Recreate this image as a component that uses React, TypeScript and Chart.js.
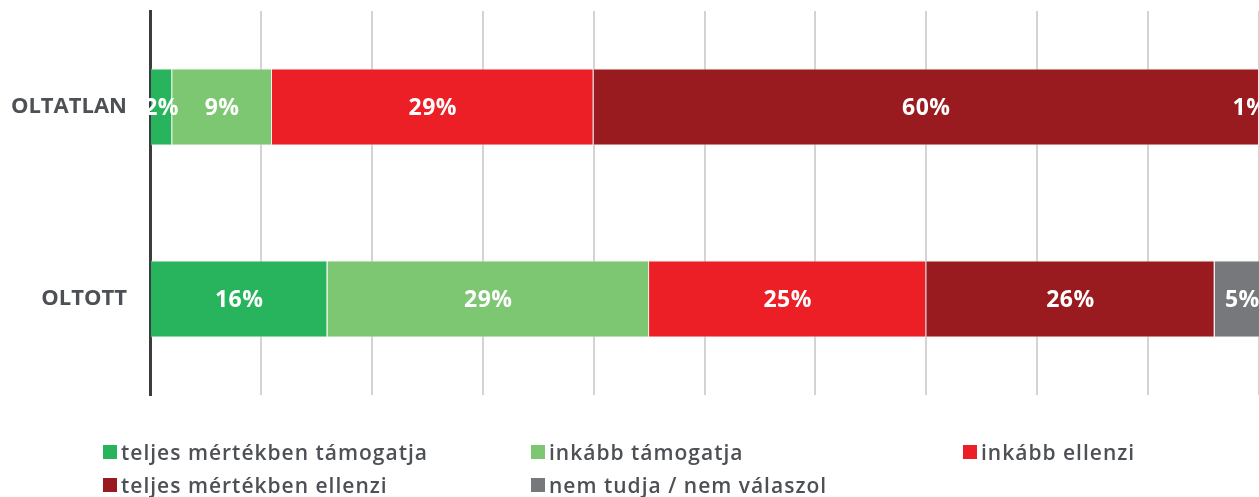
import React, { useEffect, useRef } from "react";
import { Chart, registerables } from "chart.js";

Chart.register(...registerables);

const categories = ["OLTATLAN", "OLTOTT"];
const seriesNames = [
  "teljes mértékben támogatja",
  "inkább támogatja",
  "inkább ellenzi",
  "teljes mértékben ellenzi",
  "nem tudja / nem válaszol",
];
const seriesColors = ["#28b45d", "#7dc672", "#ec1f27", "#991b1f", "#76787b"];
const fullySupports = [2, 16];
const ratherSupports = [9, 29];
const ratherOpposes = [29, 25];
const fullyOpposes = [60, 26];
const dontKnow = [1, 5];
const seriesValues = [fullySupports, ratherSupports, ratherOpposes, fullyOpposes, dontKnow];
const xTicks = [0, 10, 20, 30, 40, 50, 60, 70, 80, 90, 100];

const FONT = "'Open Sans', 'DejaVu Sans', sans-serif";
const TEXT = "#4d5054";

const labelPlugin = {
  id: "segLabels",
  afterDatasetsDraw(chart: any) {
    const ctx = chart.ctx;
    const area = chart.chartArea;
    ctx.save();
    ctx.font = `bold 23px ${FONT}`;
    try {
      (ctx as any).letterSpacing = "0.5px";
    } catch (e) {}
    ctx.fillStyle = "#ffffff";
    ctx.textAlign = "center";
    ctx.textBaseline = "middle";
    chart.data.datasets.forEach((ds: any, di: number) => {
      const meta = chart.getDatasetMeta(di);
      meta.data.forEach((el: any, i: number) => {
        const v = ds.data[i];
        if (!v) return;
        let cx = (el.x + el.base) / 2;
        if (cx > area.right - 9) cx = area.right - 9;
        ctx.fillText(`${v}%`, cx, el.y + 1);
      });
    });
    ctx.restore();
  },
};

export default function App() {
  const ref = useRef<HTMLCanvasElement | null>(null);
  useEffect(() => {
    if (!ref.current) return;
    const chart = new Chart(ref.current, {
      type: "bar",
      data: {
        labels: categories,
        datasets: seriesNames.map((name, i) => ({
          label: name,
          data: seriesValues[i],
          backgroundColor: seriesColors[i],
          borderColor: "rgba(235,235,235,0.8)",
          borderWidth: 1,
          categoryPercentage: 0.4,
          barPercentage: 1,
        })),
      },
      options: {
        indexAxis: "y",
        responsive: false,
        animation: false,
        layout: { padding: { top: 11, bottom: 102, left: 0, right: 0 } },
        plugins: { legend: { display: false }, tooltip: { enabled: false } },
        scales: {
          x: {
            stacked: true,
            min: 0,
            max: 100,
            afterBuildTicks: (scale: any) => {
              scale.ticks = xTicks.map((v) => ({ value: v }));
            },
            ticks: { display: false },
            grid: { color: "#d3d3d3", lineWidth: 2, drawTicks: false },
            border: { display: false },
          },
          y: {
            stacked: true,
            afterFit: (scale: any) => {
              scale.width = 150;
            },
            ticks: {
              padding: 0,
              color: TEXT,
              font: { family: FONT, size: 22, weight: "bold", lineHeight: 1 },
            },
            grid: { display: false, drawTicks: true, tickLength: 23 },
            border: { display: true, color: "#3a3d40", width: 3 },
          },
        },
      },
      plugins: [labelPlugin],
    } as any);
    return () => chart.destroy();
  }, []);

  const legendPos = [
    [103, 452],
    [531, 452],
    [963, 452],
    [103, 485],
    [531, 485],
  ];

  return (
    <div style={{ position: "absolute", left: 0, top: 0, width: 1259, height: 497 }}>
      <canvas ref={ref} width={1259} height={497} style={{ display: "block" }} />
      {seriesNames.map((name, i) => (
        <div
          key={name}
          style={{
            position: "absolute",
            left: legendPos[i][0],
            top: legendPos[i][1] - 15,
            height: 30,
            display: "flex",
            alignItems: "center",
            fontFamily: FONT,
            fontWeight: 600,
            fontSize: 21,
            letterSpacing: "1px",
            color: TEXT,
            whiteSpace: "nowrap",
          }}
        >
          <span
            style={{
              display: "inline-block",
              width: 14,
              height: 14,
              background: seriesColors[i],
              marginRight: 4,
            }}
          />
          {name}
        </div>
      ))}
    </div>
  );
}
